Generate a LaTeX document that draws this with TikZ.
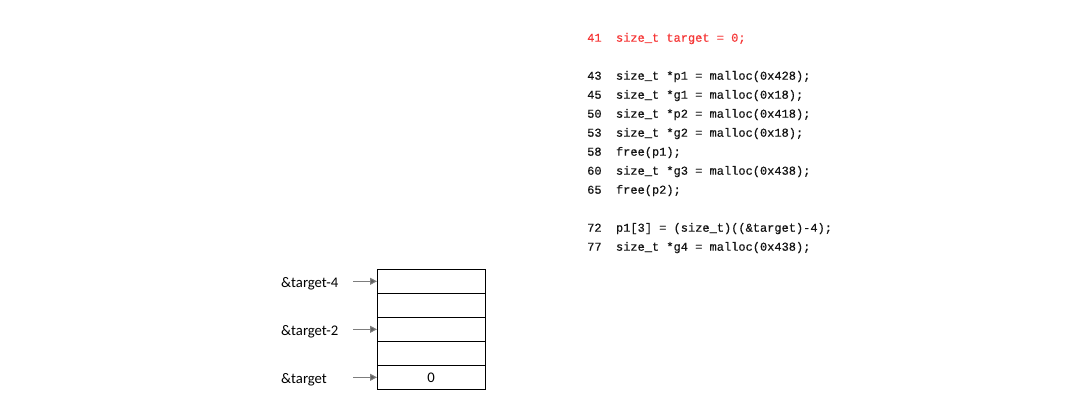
\documentclass[tikz,border=0pt]{standalone}
\usepackage{fontspec}
\usetikzlibrary{arrows.meta}
\newfontfamily\codefont[FakeBold=0.5]{Liberation Mono}
\newfontfamily\labfont{Carlito}
\definecolor{codered}{RGB}{245,55,55}
\definecolor{codeblack}{RGB}{20,20,20}
\definecolor{arrgray}{RGB}{125,125,125}
\tikzset{
  codeline/.style={anchor=base west,inner sep=0pt,font=\codefont\fontsize{12}{14}\selectfont,text=codeblack},
  redline/.style={codeline,text=codered},
  cell/.style={draw=black,line width=1pt,minimum width=108pt,minimum height=24pt,inner sep=0pt,outer sep=0pt,font=\labfont\fontsize{14.7}{17}\selectfont},
  lab/.style={anchor=base west,inner sep=0pt,font=\labfont\fontsize{14.7}{17}\selectfont},
  ptr/.style={draw=arrgray,line width=1pt,-{Triangle[length=7pt,width=7pt,fill=arrgray!75!black]}}
}
\begin{document}
\begin{tikzpicture}[x=1pt,y=-1pt]
\useasboundingbox (0,0) rectangle (1085,410);
% code listing
\node[redline]  (l41) at (587,41.7)  {41\ \ size\_t target = 0;};
\node[codeline] (l43) at (587,79.7)  {43\ \ size\_t *p1 = malloc(0x428);};
\node[codeline] (l45) at (587,98.7)  {45\ \ size\_t *g1 = malloc(0x18);};
\node[codeline] (l50) at (587,117.7) {50\ \ size\_t *p2 = malloc(0x418);};
\node[codeline] (l53) at (587,136.7) {53\ \ size\_t *g2 = malloc(0x18);};
\node[codeline] (l58) at (587,155.7) {58\ \ free(p1);};
\node[codeline] (l60) at (587,174.7) {60\ \ size\_t *g3 = malloc(0x438);};
\node[codeline] (l65) at (587,193.7) {65\ \ free(p2);};
\node[codeline] (l72) at (587,231.7) {72\ \ p1[3] = (size\_t)((\&target)-4);};
\node[codeline] (l77) at (587,250.7) {77\ \ size\_t *g4 = malloc(0x438);};
% memory cells
\node[cell] (c1) at (431,281.3) {};
\node[cell] (c2) at (431,305.3) {};
\node[cell] (c3) at (431,329.3) {};
\node[cell] (c4) at (431,353.3) {};
\node[cell] (c5) at (431,377.3) {0};
% labels
\node[lab] (t4) at (281,287.3) {\&target-4};
\node[lab] (t2) at (281,335.3) {\&target-2};
\node[lab] (t0) at (281,383.3) {\&target};
% arrows
\coordinate (a1) at (353,281.3);
\coordinate (a3) at (353,329.3);
\coordinate (a5) at (353,377.3);
\draw[ptr] (a1) -- (c1.west);
\draw[ptr] (a3) -- (c3.west);
\draw[ptr] (a5) -- (c5.west);
\end{tikzpicture}
\end{document}
